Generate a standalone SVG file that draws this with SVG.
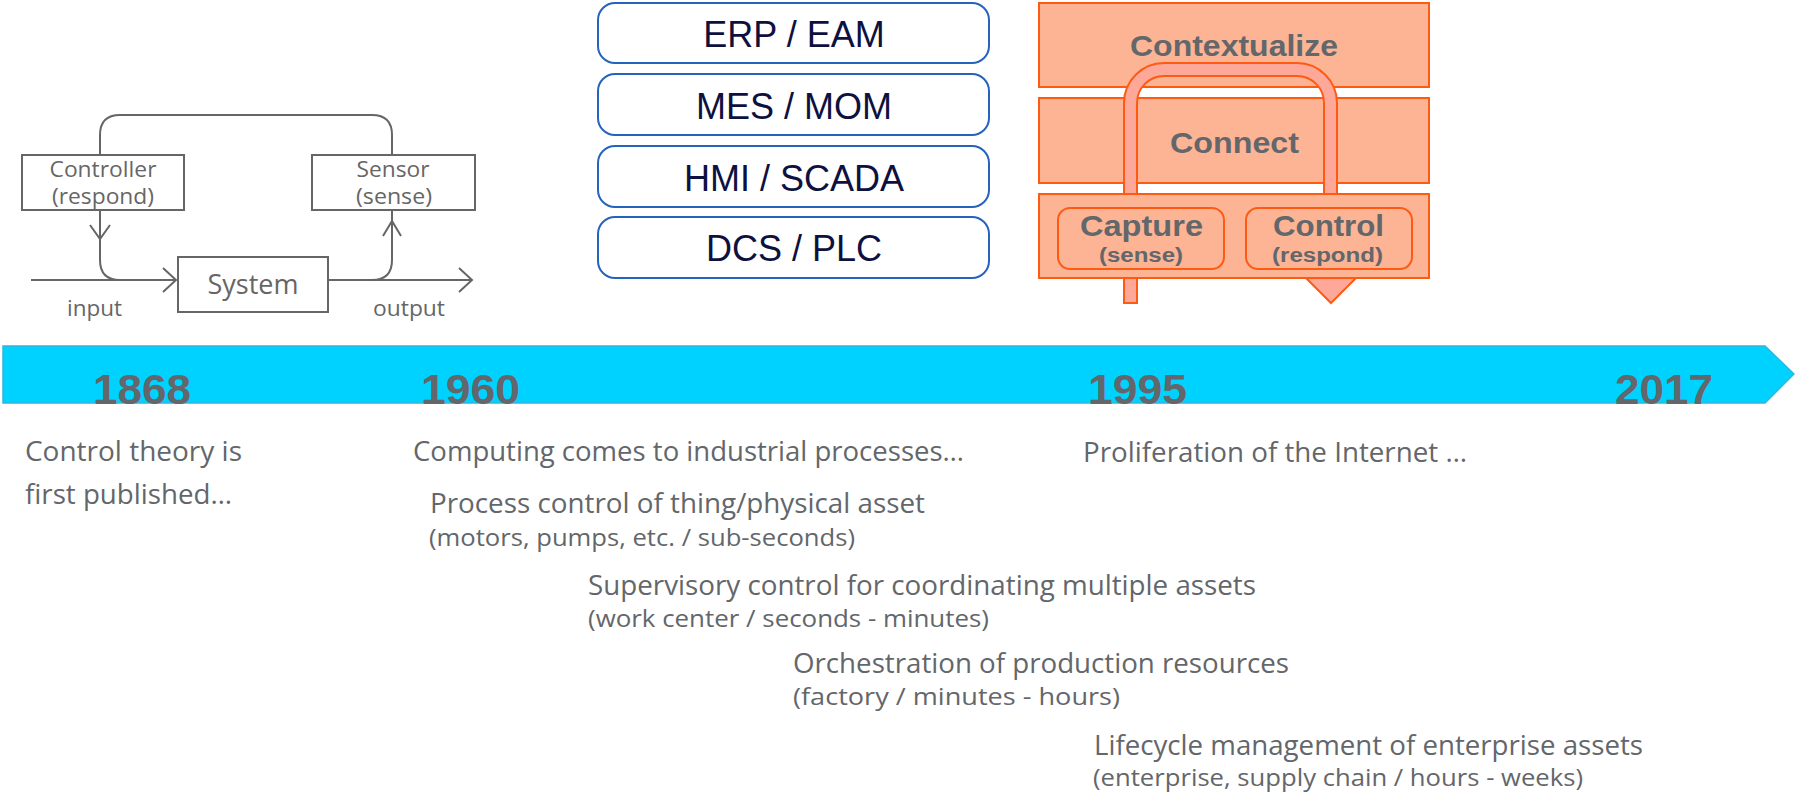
<svg xmlns="http://www.w3.org/2000/svg" width="1795" height="799" viewBox="0 0 1795 799">
<style>
.bg{fill:#ffffff}
.fb{fill:none;stroke:#666666;stroke-width:2}
.box{fill:#ffffff;stroke:#666666;stroke-width:2}
.lt{font-family:"Open Sans","Noto Sans",sans-serif;fill:#666666}
.lay{fill:#ffffff;stroke:#2563BE;stroke-width:2}
.layt{font-family:"Liberation Sans",Arial,sans-serif;font-size:36px;fill:#0E1140;text-anchor:middle}
.orect{fill:#FCB494;stroke:#FF5A12;stroke-width:2}
.uarrow{fill:#FDA899;stroke:#FF5A12;stroke-width:2}
.ot{font-family:"Liberation Sans",Arial,sans-serif;font-weight:bold;fill:#63666A}
.bar{fill:#00D2FF;stroke:#31B4DE;stroke-width:1.5}
.yr{font-family:"Liberation Sans",Arial,sans-serif;font-weight:bold;font-size:42px;fill:#63666A}
.tx{font-family:"Open Sans","Noto Sans",sans-serif;font-size:27px;fill:#63666A}
.sx{font-family:"Open Sans","Noto Sans",sans-serif;font-size:24px;fill:#63666A}
</style>
<rect class="bg" x="0" y="0" width="1795" height="799"/>

<!-- Left feedback loop diagram -->
<g id="connectors">
  <path class="fb" d="M100,155 V135 Q100,115 120,115 H372 Q392,115 392,135 V155"/>
  <path class="fb" d="M100,210 V260 Q100,280 120,280"/>
  <path class="fb" d="M31,280 H176"/>
  <polyline class="fb" points="163,268 176,280 163,292"/>
  <polyline class="fb" points="90,225 100,239 110,225"/>
  <path class="fb" d="M328,280 H472"/>
  <polyline class="fb" points="459,268 472,280 459,292"/>
  <path class="fb" d="M372,280 Q392,280 392,260 V210"/>
  <polyline class="fb" points="383,236 392,221 401,236"/>
</g>
<g id="controller">
  <rect class="box" x="22" y="155" width="162" height="55"/>
  <text class="lt" x="103" y="177" font-size="21" text-anchor="middle" textLength="107" lengthAdjust="spacingAndGlyphs">Controller</text>
  <text class="lt" x="103" y="204" font-size="21" text-anchor="middle" textLength="102" lengthAdjust="spacingAndGlyphs">(respond)</text>
</g>
<g id="sensor">
  <rect class="box" x="312" y="155" width="163" height="55"/>
  <text class="lt" x="393" y="177" font-size="21" text-anchor="middle" textLength="73" lengthAdjust="spacingAndGlyphs">Sensor</text>
  <text class="lt" x="394" y="204" font-size="21" text-anchor="middle" textLength="76" lengthAdjust="spacingAndGlyphs">(sense)</text>
</g>
<g id="system">
  <rect class="box" x="178" y="257" width="150" height="55"/>
  <text class="lt" x="253" y="294" font-size="28" text-anchor="middle" textLength="91" lengthAdjust="spacingAndGlyphs">System</text>
</g>
<g id="labels-io">
  <text class="lt" x="67" y="316" font-size="21" textLength="55" lengthAdjust="spacingAndGlyphs">input</text>
  <text class="lt" x="373" y="316" font-size="21" textLength="72" lengthAdjust="spacingAndGlyphs">output</text>
</g>

<!-- Layer stack -->
<g id="erp-eam">
  <rect class="lay" x="598" y="3" width="391" height="60" rx="17"/>
  <text class="layt" x="794" y="47">ERP / EAM</text>
</g>
<g id="mes-mom">
  <rect class="lay" x="598" y="74" width="391" height="61" rx="17"/>
  <text class="layt" x="794" y="119">MES / MOM</text>
</g>
<g id="hmi-scada">
  <rect class="lay" x="598" y="146" width="391" height="61" rx="17"/>
  <text class="layt" x="794" y="191">HMI / SCADA</text>
</g>
<g id="dcs-plc">
  <rect class="lay" x="598" y="217" width="391" height="61" rx="17"/>
  <text class="layt" x="794" y="261">DCS / PLC</text>
</g>

<!-- Orange stack -->
<g id="contextualize">
  <rect class="orect" x="1039" y="3" width="390" height="84"/>
  <text class="ot" x="1130" y="56" font-size="30" textLength="208" lengthAdjust="spacingAndGlyphs">Contextualize</text>
</g>
<g id="connect">
  <rect class="orect" x="1039" y="98" width="390" height="85"/>
  <text class="ot" x="1170" y="153" font-size="30" textLength="129" lengthAdjust="spacingAndGlyphs">Connect</text>
</g>
<g id="loop-arrow">
  <path class="uarrow" d="M1124,303 V103 A40,40 0 0 1 1164,63 H1297 A40,40 0 0 1 1337,103 V272 H1362 L1331,303 L1300,272 H1324 V103 A27,27 0 0 0 1297,76 H1164 A27,27 0 0 0 1137,103 V303 Z"/>
</g>
<g id="capture-control-layer">
  <rect class="orect" x="1039" y="194" width="390" height="84"/>
</g>
<g id="capture">
  <rect class="orect" x="1058" y="208" width="166" height="61" rx="12"/>
  <text class="ot" x="1080" y="236" font-size="30" textLength="123" lengthAdjust="spacingAndGlyphs">Capture</text>
  <text class="ot" x="1099" y="262" font-size="20" textLength="84" lengthAdjust="spacingAndGlyphs">(sense)</text>
</g>
<g id="control">
  <rect class="orect" x="1246" y="208" width="166" height="61" rx="12"/>
  <text class="ot" x="1273" y="236" font-size="30" textLength="111" lengthAdjust="spacingAndGlyphs">Control</text>
  <text class="ot" x="1272" y="262" font-size="20" textLength="111" lengthAdjust="spacingAndGlyphs">(respond)</text>
</g>

<!-- Timeline -->
<g id="timeline">
  <path class="bar" d="M3,346 H1765 L1794,374 L1765,403 H3 Z"/>
  <text class="yr" x="93" y="404" textLength="98" lengthAdjust="spacingAndGlyphs">1868</text>
  <text class="yr" x="421" y="404" textLength="99" lengthAdjust="spacingAndGlyphs">1960</text>
  <text class="yr" x="1088" y="404" textLength="99" lengthAdjust="spacingAndGlyphs">1995</text>
  <text class="yr" x="1615" y="404" textLength="98" lengthAdjust="spacingAndGlyphs">2017</text>
</g>

<g id="text-1868">
  <text class="tx" x="25" y="461" textLength="217" lengthAdjust="spacingAndGlyphs">Control theory is</text>
  <text class="tx" x="25" y="504" textLength="207" lengthAdjust="spacingAndGlyphs">first published…</text>
</g>
<g id="text-1960">
  <text class="tx" x="413" y="461" textLength="551" lengthAdjust="spacingAndGlyphs">Computing comes to industrial processes…</text>
  <text class="tx" x="430" y="513" textLength="495" lengthAdjust="spacingAndGlyphs">Process control of thing/physical asset</text>
  <text class="sx" x="429" y="546" textLength="426" lengthAdjust="spacingAndGlyphs">(motors, pumps, etc. / sub-seconds)</text>
  <text class="tx" x="588" y="595" textLength="668" lengthAdjust="spacingAndGlyphs">Supervisory control for coordinating multiple assets</text>
  <text class="sx" x="588" y="627" textLength="401" lengthAdjust="spacingAndGlyphs">(work center / seconds - minutes)</text>
  <text class="tx" x="793" y="673" textLength="496" lengthAdjust="spacingAndGlyphs">Orchestration of production resources</text>
  <text class="sx" x="793" y="705" textLength="327" lengthAdjust="spacingAndGlyphs">(factory / minutes - hours)</text>
</g>
<g id="text-1995">
  <text class="tx" x="1083" y="462" textLength="384" lengthAdjust="spacingAndGlyphs">Proliferation of the Internet …</text>
  <text class="tx" x="1094" y="755" textLength="549" lengthAdjust="spacingAndGlyphs">Lifecycle management of enterprise assets</text>
  <text class="sx" x="1093" y="786" textLength="490" lengthAdjust="spacingAndGlyphs">(enterprise, supply chain / hours - weeks)</text>
</g>
</svg>
